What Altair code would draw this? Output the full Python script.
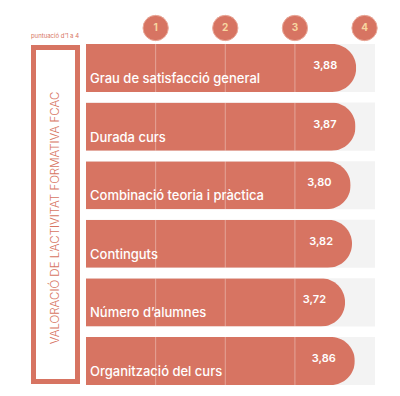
import altair as alt
import pandas as pd

categories = ["Grau de satisfacció general", "Durada curs", "Combinació teoria i pràctica",
              "Continguts", "Número d’alumnes", "Organització del curs"]
values = [3.88, 3.87, 3.80, 3.82, 3.72, 3.86]
ticks = [1, 2, 3, 4]
grid_ticks = [1, 2, 3]
scale_max = 4.15
title_text = "VALORACIÓ DE L’ACTIVITAT FORMATIVA FCAC"
subtitle_text = "puntuació d’1 a 4"

SALMON = "#d77462"
TRACK = "#f3f3f3"
FONT = "Inter"

df = pd.DataFrame({"cat": categories, "value": values, "track": [scale_max] * len(categories)})
grid_df = pd.DataFrame([{"cat": c, "tick": t} for c in categories for t in grid_ticks])
tick_df = pd.DataFrame({"tick": ticks})
one = pd.DataFrame({"a": [0]})

xs = alt.Scale(domain=[0, scale_max], nice=False, zero=True)
ys = alt.Scale(domain=categories, paddingInner=0.18, paddingOuter=0)
Y = alt.Y("cat:N", scale=ys, axis=None, sort=categories)

base = alt.Chart(df)

track = base.mark_bar(color=TRACK).encode(
    x=alt.X("track:Q", scale=xs, axis=None), x2=alt.datum(0), y=Y)

bars = base.mark_bar(color=SALMON, cornerRadiusTopRight=24, cornerRadiusBottomRight=24).encode(
    x=alt.X("value:Q", scale=xs, axis=None), y=Y)

grid = alt.Chart(grid_df).mark_tick(color="#ffffff", opacity=0.35, thickness=1, size=48).encode(
    x=alt.X("tick:Q", scale=xs, axis=None), y=Y)

cat_text = base.mark_text(align="left", baseline="middle", dx=4, dy=11, color="white",
                          font=FONT, fontSize=13, fontWeight=500).encode(
    x=alt.value(0), y=Y, text="cat:N")

val_text = base.transform_calculate(
    label="replace(format(datum.value, '.2f'), '.', ',')"
).mark_text(align="right", baseline="middle", dx=-19, dy=-2, color="white",
            font=FONT, fontSize=11, fontWeight=600).encode(
    x=alt.X("value:Q", scale=xs, axis=None), y=Y, text="label:N")

circles = alt.Chart(tick_df).mark_circle(size=640, color=SALMON, opacity=1,
                                         stroke="#eaa999", strokeWidth=1).encode(
    x=alt.X("tick:Q", scale=xs, axis=None), y=alt.value(-16))

circle_text = alt.Chart(tick_df).mark_text(color="#f7d6a0", font=FONT, fontSize=10,
                                           fontWeight=700, baseline="middle").encode(
    x=alt.X("tick:Q", scale=xs, axis=None), y=alt.value(-16), text="tick:N")

box = alt.Chart(one).mark_rect(fill=None, stroke=SALMON, strokeWidth=5).encode(
    x=alt.value(-52.5), x2=alt.value(-8.5), y=alt.value(3.5), y2=alt.value(337.5))

title = alt.Chart(one).mark_text(text=title_text, angle=270, color=SALMON, font=FONT,
                                 fontSize=11.5, fontWeight=300, baseline="middle",
                                 align="center").encode(
    x=alt.value(-30.5), y=alt.value(174))

subtitle = alt.Chart(one).mark_text(text=subtitle_text, color=SALMON, font=FONT,
                                    fontSize=6, fontWeight=400, baseline="middle",
                                    align="center").encode(
    x=alt.value(-31), y=alt.value(-8))

chart = alt.layer(track, bars, grid, cat_text, val_text, circles, circle_text,
                  box, title, subtitle).properties(
    width=289, height=341,
    autosize=alt.AutoSizeParams(type="none"),
    padding={"left": 78, "top": 36, "right": 12, "bottom": 4},
).configure_view(stroke=None)

chart.save("out.html", embed_options={"renderer": "svg", "actions": False})
